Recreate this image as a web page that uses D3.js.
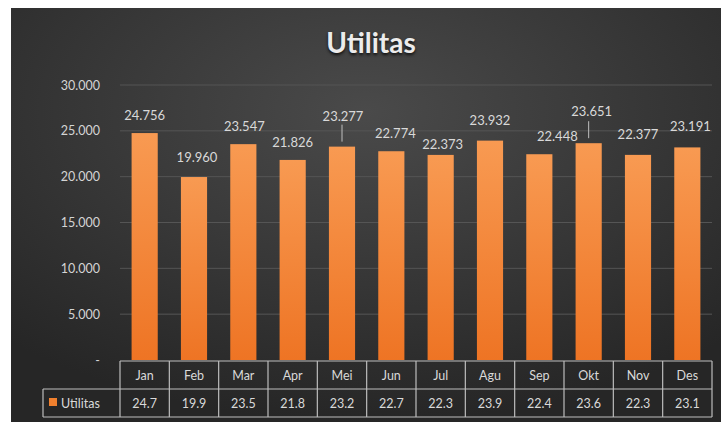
<!DOCTYPE html>
<meta charset="utf-8">
<style>
  body { margin: 0; background: #fff; }
  text { font-family: Lato, "Open Sans", sans-serif; }
</style>
<body>
<script src="https://cdn.jsdelivr.net/npm/d3@7"></script>
<script>
var width = 721, height = 422;

// data
var months = ["Jan", "Feb", "Mar", "Apr", "Mei", "Jun", "Jul", "Agu", "Sep", "Okt", "Nov", "Des"];
var utilitas = [24756, 19960, 23547, 21826, 23277, 22774, 22373, 23932, 22448, 23651, 22377, 23191];
var yTicks = [0, 5000, 10000, 15000, 20000, 25000, 30000];
var seriesName = "Utilitas";

// small nudges for the data labels, as in the original (dx, dy)
var labelNudge = [[0,0],[3,-2],[1,0],[0,0],[1,-13],[4,0],[2,7],[0,-3],[18,0],[3,-14],[0,-3],[3,-3]];
var leaderLines = ["Mei", "Okt"];

var svg = d3.select("body").append("svg")
  .attr("width", width)
  .attr("height", height);

var defs = svg.append("defs");
var bg = defs.append("radialGradient").attr("id", "bg")
  .attr("cx", "50%").attr("cy", "25%").attr("r", "75%");
bg.append("stop").attr("offset", "0%").attr("stop-color", "#4a4a4a");
bg.append("stop").attr("offset", "100%").attr("stop-color", "#262626");

var barGrad = defs.append("linearGradient").attr("id", "bar")
  .attr("x1", 0).attr("y1", 0).attr("x2", 0).attr("y2", 1);
barGrad.append("stop").attr("offset", "0%").attr("stop-color", "#f89a52");
barGrad.append("stop").attr("offset", "100%").attr("stop-color", "#ee7424");

svg.append("rect")
  .attr("x", 11).attr("y", 8)
  .attr("width", width - 11).attr("height", height - 8)
  .attr("fill", "url(#bg)");

// title
svg.append("text")
  .attr("x", 371).attr("y", 53)
  .attr("text-anchor", "middle")
  .attr("font-size", 28).attr("font-weight", "bold")
  .attr("fill", "#ececec")
  .style("text-shadow", "0 2px 3px #111")
  .text("Utilitas");

var x = d3.scaleBand()
  .domain(months)
  .range([120, 712])
  .paddingInner(0.47)
  .paddingOuter(0.235);

var y = d3.scaleLinear()
  .domain([0, 30000])
  .range([360, 85]);

var fmt = d3.formatLocale({ decimal: ",", thousands: ".", grouping: [3], currency: ["", ""] });
var fmtInt = fmt.format(",");

// grid
svg.append("g").selectAll("line")
  .data(yTicks.filter(function (d) { return d > 0; }))
  .enter().append("line")
  .attr("x1", 120).attr("x2", 712)
  .attr("y1", function (d) { return y(d); })
  .attr("y2", function (d) { return y(d); })
  .attr("stroke", "#555555")
  .attr("stroke-width", 1);

// y axis
var yAxis = svg.append("g")
  .attr("transform", "translate(100,0)")
  .call(d3.axisLeft(y).tickValues(yTicks).tickSize(0).tickPadding(0)
    .tickFormat(function (d) { return d === 0 ? "-" : fmtInt(d); }));
yAxis.select(".domain").remove();
yAxis.selectAll("text")
  .attr("fill", "#d4d4d4")
  .attr("font-size", 12.5)
  .attr("font-family", "Lato, sans-serif");

// bars
svg.append("g").selectAll("rect")
  .data(utilitas)
  .enter().append("rect")
  .attr("x", function (d, i) { return x(months[i]); })
  .attr("y", function (d) { return y(d); })
  .attr("width", x.bandwidth())
  .attr("height", function (d) { return y(0) - y(d); })
  .attr("fill", "url(#bar)");

// leader lines
svg.append("g").selectAll("line")
  .data(leaderLines)
  .enter().append("line")
  .attr("x1", function (m) { return x(m) + x.bandwidth() / 2; })
  .attr("x2", function (m) { return x(m) + x.bandwidth() / 2; })
  .attr("y1", function (m) { return y(utilitas[months.indexOf(m)]) - 22; })
  .attr("y2", function (m) { return y(utilitas[months.indexOf(m)]) - 5; })
  .attr("stroke", "#bfbfbf")
  .attr("stroke-width", 1);

// data labels
svg.append("g").selectAll("text")
  .data(utilitas)
  .enter().append("text")
  .attr("x", function (d, i) { return x(months[i]) + x.bandwidth() / 2 + labelNudge[i][0]; })
  .attr("y", function (d, i) { return y(d) - 13 + labelNudge[i][1]; })
  .attr("text-anchor", "middle")
  .attr("font-size", 13)
  .attr("fill", "#d9d9d9")
  .text(function (d) { return fmtInt(d); });

// data table
var rowTop = 361, rowMid = 389, rowBot = 417, legendLeft = 43;
var table = svg.append("g")
  .attr("stroke", "#bdbdbd").attr("stroke-width", 1.2).attr("fill", "none");

table.append("line").attr("x1", 120).attr("x2", 712).attr("y1", rowTop).attr("y2", rowTop);
table.append("line").attr("x1", legendLeft).attr("x2", 712).attr("y1", rowMid).attr("y2", rowMid);
table.append("line").attr("x1", legendLeft).attr("x2", 712).attr("y1", rowBot).attr("y2", rowBot);
table.append("line").attr("x1", legendLeft).attr("x2", legendLeft).attr("y1", rowMid).attr("y2", rowBot);

var step = x.step();
var edges = months.map(function (m) { return x(m) - x.paddingInner() * step / 2; });
edges.push(712);
table.selectAll("line.v")
  .data(edges)
  .enter().append("line")
  .attr("class", "v")
  .attr("x1", function (d) { return d; })
  .attr("x2", function (d) { return d; })
  .attr("y1", rowTop).attr("y2", rowBot);

svg.append("g").selectAll("text")
  .data(months)
  .enter().append("text")
  .attr("x", function (m) { return x(m) + x.bandwidth() / 2; })
  .attr("y", 380)
  .attr("text-anchor", "middle")
  .attr("font-size", 12.5)
  .attr("fill", "#d9d9d9")
  .text(function (m) { return m; });

svg.append("g").selectAll("text")
  .data(utilitas)
  .enter().append("text")
  .attr("x", function (d, i) { return x(months[i]) + x.bandwidth() / 2; })
  .attr("y", 408)
  .attr("text-anchor", "middle")
  .attr("font-size", 12.5)
  .attr("fill", "#d9d9d9")
  .text(function (d) { return (Math.floor(d / 100) / 10).toFixed(1); });

svg.append("rect")
  .attr("x", 49).attr("y", 398)
  .attr("width", 8).attr("height", 8)
  .attr("fill", "#f0802e");
svg.append("text")
  .attr("x", 61).attr("y", 408)
  .attr("font-size", 12.5)
  .attr("fill", "#d9d9d9")
  .text(seriesName);
</script>
</body>
